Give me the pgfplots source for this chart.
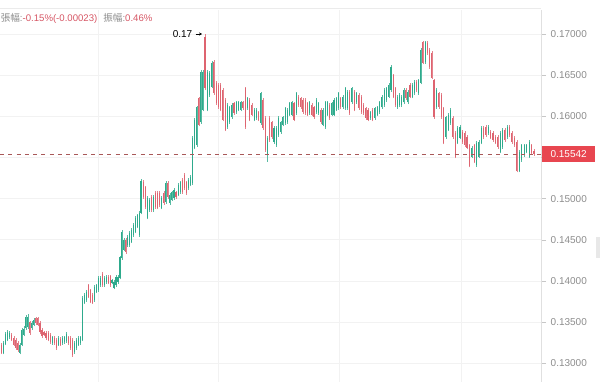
\documentclass[border=0pt]{standalone}
\usepackage{fontspec}
\setmainfont{Liberation Sans}
\newfontfamily\cjk{Noto Sans CJK TC}
\usepackage{pgfplots}
\usepackage{pgfplotstable}
\pgfplotsset{compat=1.18}
\usetikzlibrary{arrows.meta}
\definecolor{cup}{RGB}{46,170,140}
\definecolor{cdn}{RGB}{222,100,112}
\definecolor{lbl}{RGB}{140,140,140}
\definecolor{val}{RGB}{214,86,100}
\definecolor{grd}{RGB}{242,242,242}
\definecolor{pricebox}{RGB}{232,70,80}
\definecolor{dashc}{RGB}{168,88,88}

\pgfplotstableread{
x o h l c
3.5 0.1313 0.1327 0.1311 0.1325
5.6 0.1324 0.1338 0.1322 0.1336
7.6 0.1329 0.1341 0.1327 0.1338
9.6 0.1332 0.1339 0.1330 0.1337
19.7 0.1313 0.1325 0.1311 0.1323
21.8 0.1323 0.1343 0.1321 0.1341
23.8 0.1335 0.1345 0.1333 0.1342
25.8 0.1343 0.1359 0.1341 0.1357
27.8 0.1344 0.1360 0.1342 0.1357
31.9 0.1343 0.1351 0.1341 0.1349
33.9 0.1347 0.1355 0.1345 0.1353
52.1 0.1325 0.1334 0.1323 0.1332
58.2 0.1323 0.1333 0.1321 0.1331
62.2 0.1325 0.1333 0.1323 0.1331
64.2 0.1326 0.1334 0.1324 0.1332
66.3 0.1327 0.1338 0.1325 0.1336
74.4 0.1314 0.1327 0.1312 0.1325
76.4 0.1319 0.1331 0.1317 0.1329
78.4 0.1323 0.1333 0.1321 0.1331
80.4 0.1325 0.1334 0.1323 0.1332
82.5 0.1329 0.1382 0.1327 0.1380
84.5 0.1374 0.1385 0.1372 0.1383
86.4 0.1377 0.1389 0.1375 0.1387
94.3 0.1377 0.1395 0.1375 0.1393
96.3 0.1387 0.1397 0.1385 0.1395
98.3 0.1389 0.1406 0.1387 0.1404
100.2 0.1395 0.1406 0.1393 0.1404
104.2 0.1395 0.1406 0.1393 0.1404
106.1 0.1399 0.1407 0.1397 0.1405
112.0 0.1398 0.1403 0.1396 0.1401
114.0 0.1392 0.1401 0.1390 0.1399
116.0 0.1395 0.1407 0.1393 0.1405
118.0 0.1399 0.1407 0.1397 0.1405
120.0 0.1404 0.1431 0.1402 0.1429
121.9 0.1428 0.1462 0.1426 0.1460
123.8 0.1438 0.1452 0.1436 0.1450
127.6 0.1444 0.1456 0.1442 0.1454
129.6 0.1444 0.1461 0.1442 0.1459
131.5 0.1448 0.1464 0.1446 0.1462
133.4 0.1456 0.1470 0.1454 0.1468
135.3 0.1460 0.1479 0.1458 0.1477
137.2 0.1466 0.1482 0.1464 0.1480
139.1 0.1456 0.1485 0.1454 0.1483
141.0 0.1483 0.1524 0.1481 0.1522
147.2 0.1477 0.1503 0.1475 0.1501
149.2 0.1486 0.1501 0.1484 0.1499
153.4 0.1486 0.1504 0.1484 0.1502
161.6 0.1489 0.1503 0.1487 0.1501
165.7 0.1496 0.1521 0.1494 0.1519
169.8 0.1495 0.1507 0.1493 0.1505
171.9 0.1499 0.1510 0.1497 0.1508
174.0 0.1501 0.1513 0.1499 0.1511
178.1 0.1505 0.1519 0.1503 0.1517
180.1 0.1508 0.1522 0.1506 0.1520
188.4 0.1513 0.1525 0.1511 0.1523
190.4 0.1517 0.1529 0.1515 0.1527
192.5 0.1519 0.1576 0.1517 0.1574
194.6 0.1562 0.1598 0.1560 0.1596
196.7 0.1565 0.1613 0.1563 0.1611
200.8 0.1593 0.1656 0.1591 0.1654
202.9 0.1608 0.1656 0.1606 0.1654
207.2 0.1608 0.1656 0.1606 0.1654
209.5 0.1626 0.1655 0.1624 0.1653
211.7 0.1636 0.1667 0.1634 0.1665
227.3 0.1587 0.1616 0.1585 0.1614
229.5 0.1593 0.1613 0.1591 0.1611
231.8 0.1599 0.1616 0.1597 0.1614
236.2 0.1605 0.1619 0.1603 0.1617
238.5 0.1608 0.1619 0.1606 0.1617
240.7 0.1608 0.1619 0.1606 0.1617
247.4 0.1610 0.1624 0.1608 0.1622
254.1 0.1596 0.1610 0.1594 0.1608
256.3 0.1598 0.1610 0.1596 0.1608
260.7 0.1592 0.1630 0.1590 0.1628
267.4 0.1553 0.1576 0.1545 0.1574
274.0 0.1569 0.1588 0.1567 0.1586
276.3 0.1565 0.1588 0.1563 0.1586
278.5 0.1577 0.1600 0.1575 0.1598
280.7 0.1581 0.1595 0.1579 0.1593
282.9 0.1590 0.1601 0.1588 0.1599
285.1 0.1592 0.1612 0.1590 0.1610
287.4 0.1593 0.1610 0.1591 0.1608
289.6 0.1602 0.1618 0.1600 0.1616
291.8 0.1602 0.1619 0.1600 0.1617
296.2 0.1604 0.1630 0.1602 0.1628
309.6 0.1604 0.1619 0.1602 0.1617
316.2 0.1605 0.1622 0.1603 0.1620
318.4 0.1604 0.1618 0.1602 0.1616
322.9 0.1590 0.1610 0.1588 0.1608
325.1 0.1587 0.1619 0.1585 0.1617
327.3 0.1602 0.1619 0.1600 0.1617
331.8 0.1602 0.1618 0.1600 0.1616
334.0 0.1602 0.1622 0.1600 0.1620
336.2 0.1608 0.1624 0.1606 0.1622
338.4 0.1610 0.1630 0.1608 0.1628
342.9 0.1611 0.1626 0.1609 0.1624
345.1 0.1610 0.1636 0.1608 0.1634
347.3 0.1610 0.1632 0.1608 0.1630
351.9 0.1617 0.1636 0.1615 0.1634
356.5 0.1617 0.1630 0.1615 0.1628
370.3 0.1598 0.1607 0.1596 0.1605
374.9 0.1598 0.1612 0.1596 0.1610
377.2 0.1602 0.1613 0.1600 0.1611
379.5 0.1605 0.1619 0.1603 0.1617
381.8 0.1611 0.1626 0.1609 0.1624
384.1 0.1614 0.1634 0.1612 0.1632
386.4 0.1620 0.1636 0.1618 0.1634
388.7 0.1624 0.1640 0.1622 0.1638
391.0 0.1632 0.1662 0.1630 0.1660
397.4 0.1611 0.1626 0.1609 0.1624
399.5 0.1614 0.1628 0.1612 0.1626
401.6 0.1614 0.1626 0.1612 0.1624
403.7 0.1617 0.1634 0.1615 0.1632
407.8 0.1617 0.1632 0.1615 0.1630
412.1 0.1624 0.1640 0.1622 0.1638
414.3 0.1628 0.1644 0.1626 0.1642
418.6 0.1628 0.1646 0.1626 0.1644
420.7 0.1641 0.1683 0.1639 0.1681
425.1 0.1666 0.1692 0.1664 0.1690
436.4 0.1611 0.1634 0.1609 0.1632
445.8 0.1575 0.1601 0.1573 0.1599
448.2 0.1584 0.1604 0.1582 0.1602
450.5 0.1592 0.1610 0.1590 0.1608
457.6 0.1568 0.1588 0.1566 0.1586
460.0 0.1574 0.1589 0.1572 0.1587
471.8 0.1551 0.1564 0.1549 0.1562
476.5 0.1541 0.1570 0.1539 0.1568
478.8 0.1551 0.1571 0.1549 0.1569
481.2 0.1568 0.1588 0.1566 0.1586
488.3 0.1580 0.1589 0.1578 0.1587
500.1 0.1557 0.1582 0.1555 0.1580
502.4 0.1563 0.1586 0.1561 0.1584
507.2 0.1575 0.1589 0.1573 0.1587
519.2 0.1534 0.1559 0.1532 0.1557
521.6 0.1547 0.1567 0.1545 0.1565
524.1 0.1553 0.1567 0.1551 0.1565
526.6 0.1557 0.1567 0.1555 0.1565
529.1 0.1551 0.1571 0.1549 0.1569
}\upData

\pgfplotstableread{
x o h l c
1.5 0.1323 0.1325 0.1311 0.1313
11.6 0.1335 0.1337 0.1327 0.1329
13.7 0.1331 0.1333 0.1321 0.1323
15.7 0.1329 0.1331 0.1317 0.1319
17.7 0.1325 0.1327 0.1314 0.1316
29.9 0.1350 0.1352 0.1335 0.1337
35.9 0.1355 0.1357 0.1347 0.1349
37.9 0.1355 0.1357 0.1345 0.1347
40.0 0.1349 0.1351 0.1336 0.1338
42.0 0.1341 0.1343 0.1331 0.1333
44.0 0.1338 0.1340 0.1333 0.1335
46.0 0.1337 0.1339 0.1329 0.1331
48.1 0.1337 0.1339 0.1327 0.1329
50.1 0.1335 0.1337 0.1324 0.1326
54.1 0.1331 0.1333 0.1323 0.1325
56.1 0.1329 0.1331 0.1317 0.1319
60.2 0.1330 0.1332 0.1321 0.1323
68.3 0.1332 0.1334 0.1323 0.1325
70.3 0.1331 0.1333 0.1317 0.1319
72.3 0.1329 0.1331 0.1308 0.1310
88.4 0.1395 0.1397 0.1379 0.1381
90.4 0.1389 0.1391 0.1373 0.1375
92.4 0.1383 0.1385 0.1372 0.1374
102.2 0.1409 0.1411 0.1393 0.1395
108.1 0.1405 0.1407 0.1396 0.1398
110.2 0.1406 0.1408 0.1393 0.1395
125.7 0.1450 0.1452 0.1433 0.1435
143.1 0.1520 0.1523 0.1500 0.1502
145.1 0.1514 0.1516 0.1488 0.1490
151.3 0.1502 0.1504 0.1484 0.1486
155.4 0.1507 0.1509 0.1488 0.1490
157.5 0.1507 0.1509 0.1487 0.1489
159.5 0.1507 0.1509 0.1490 0.1492
163.7 0.1507 0.1509 0.1493 0.1495
167.8 0.1519 0.1521 0.1500 0.1502
176.0 0.1508 0.1510 0.1500 0.1502
182.2 0.1523 0.1525 0.1506 0.1508
184.2 0.1529 0.1531 0.1511 0.1513
186.3 0.1520 0.1522 0.1505 0.1507
198.7 0.1622 0.1624 0.1588 0.1590
205.0 0.1696 0.1700 0.1632 0.1634
213.9 0.1666 0.1668 0.1626 0.1628
216.2 0.1641 0.1643 0.1614 0.1616
218.4 0.1638 0.1640 0.1609 0.1611
220.6 0.1638 0.1640 0.1606 0.1608
222.8 0.1632 0.1634 0.1594 0.1596
225.1 0.1620 0.1622 0.1582 0.1584
234.0 0.1616 0.1618 0.1602 0.1604
242.9 0.1617 0.1619 0.1608 0.1610
245.1 0.1634 0.1636 0.1585 0.1587
249.6 0.1620 0.1622 0.1594 0.1596
251.8 0.1614 0.1616 0.1600 0.1602
258.5 0.1605 0.1607 0.1594 0.1596
262.9 0.1620 0.1622 0.1584 0.1586
265.1 0.1598 0.1600 0.1557 0.1559
269.6 0.1598 0.1600 0.1569 0.1571
271.8 0.1593 0.1595 0.1573 0.1575
294.0 0.1616 0.1618 0.1594 0.1596
298.5 0.1624 0.1626 0.1612 0.1614
300.7 0.1622 0.1624 0.1609 0.1611
302.9 0.1620 0.1622 0.1603 0.1605
305.1 0.1620 0.1622 0.1602 0.1604
307.3 0.1616 0.1618 0.1600 0.1602
311.8 0.1614 0.1616 0.1600 0.1602
314.0 0.1611 0.1613 0.1597 0.1599
320.7 0.1608 0.1610 0.1591 0.1593
329.5 0.1614 0.1616 0.1596 0.1598
340.6 0.1622 0.1624 0.1609 0.1611
349.6 0.1630 0.1632 0.1602 0.1604
354.2 0.1630 0.1632 0.1606 0.1608
358.8 0.1626 0.1628 0.1608 0.1610
361.1 0.1624 0.1626 0.1603 0.1605
363.4 0.1614 0.1616 0.1602 0.1604
365.7 0.1610 0.1612 0.1596 0.1598
368.0 0.1608 0.1610 0.1594 0.1596
372.6 0.1608 0.1610 0.1594 0.1596
393.1 0.1650 0.1652 0.1622 0.1624
395.2 0.1634 0.1636 0.1612 0.1614
405.7 0.1632 0.1634 0.1620 0.1622
410.0 0.1638 0.1640 0.1622 0.1624
416.4 0.1642 0.1644 0.1630 0.1632
422.9 0.1690 0.1692 0.1663 0.1665
427.4 0.1689 0.1691 0.1675 0.1677
429.6 0.1681 0.1683 0.1658 0.1660
431.8 0.1677 0.1679 0.1645 0.1647
434.0 0.1644 0.1646 0.1597 0.1599
438.7 0.1628 0.1630 0.1609 0.1611
441.1 0.1626 0.1628 0.1597 0.1599
443.4 0.1610 0.1612 0.1566 0.1568
452.9 0.1598 0.1600 0.1573 0.1575
455.2 0.1580 0.1582 0.1549 0.1551
462.3 0.1581 0.1583 0.1567 0.1569
464.7 0.1580 0.1582 0.1563 0.1565
467.0 0.1575 0.1577 0.1560 0.1562
469.4 0.1565 0.1567 0.1538 0.1540
474.1 0.1565 0.1567 0.1543 0.1545
483.6 0.1586 0.1588 0.1573 0.1575
485.9 0.1587 0.1589 0.1575 0.1577
490.6 0.1581 0.1583 0.1572 0.1574
493.0 0.1580 0.1582 0.1569 0.1571
495.4 0.1575 0.1577 0.1566 0.1568
497.7 0.1575 0.1577 0.1561 0.1563
504.8 0.1584 0.1586 0.1569 0.1571
509.5 0.1587 0.1589 0.1575 0.1577
511.9 0.1580 0.1582 0.1567 0.1569
514.2 0.1574 0.1576 0.1563 0.1565
516.7 0.1569 0.1571 0.1532 0.1534
531.5 0.1565 0.1567 0.1554 0.1556
534.0 0.1558 0.1560 0.1552 0.15542
}\dnData

\begin{document}
\begin{tikzpicture}[x=0.75pt,y=0.75pt]
\useasboundingbox (0,0) rectangle (600,382);
\begin{axis}[
  at={(0,0)}, anchor=south west,
  scale only axis, width=405.75pt, height=279pt,
  xmin=0, xmax=541, ymin=0.127755, ymax=0.172916,
  axis x line=none, axis y line*=right,
  axis line style={draw=black!12, line width=0.75pt},
  ytick={0.13,0.135,0.14,0.145,0.15,0.16,0.165,0.17},
  extra y ticks={0.155}, extra y tick labels={},
  scaled y ticks=false,
  ymajorgrids, grid style={grd, line width=0.75pt},
  tick align=outside, major tick length=3.75pt,
  tick style={draw=black!22, line width=0.5pt},
  yticklabel style={/pgf/number format/fixed, /pgf/number format/fixed zerofill,
    /pgf/number format/precision=5, /pgf/number format/assume math mode=true,
    font=\fontsize{7.5}{9}\selectfont, text=lbl},
  clip=false,
]
\foreach \gx in {98,218,339,461}{
  \edef\tmp{\noexpand\draw[grd, line width=0.75pt] (axis cs:\gx,0.127755) -- (axis cs:\gx,0.172916);}\tmp
}
% wicks: segment from low to high
\addplot[cup!80, line width=0.3pt, mark=none, forget plot,
  quiver={u=0, v=\thisrow{h}-\thisrow{l}}] table[x=x, y=l] {\upData};
\addplot[cdn!80, line width=0.3pt, mark=none, forget plot,
  quiver={u=0, v=\thisrow{h}-\thisrow{l}}] table[x=x, y=l] {\dnData};
% bodies: segment from open to close
\addplot[cup, line width=0.8pt, mark=none, forget plot,
  quiver={u=0, v=\thisrow{c}-\thisrow{o}}] table[x=x, y=o] {\upData};
\addplot[cdn, line width=0.8pt, mark=none, forget plot,
  quiver={u=0, v=\thisrow{c}-\thisrow{o}}] table[x=x, y=o] {\dnData};
% current price line
\addplot[dashc, line width=0.6pt, dash pattern=on 3pt off 3.2pt, forget plot] coordinates {(0,0.15542) (541,0.15542)};
\node[fill=pricebox, text=white, anchor=west, inner sep=0pt, minimum width=40pt,
  minimum height=11.75pt, font=\fontsize{7.5}{9}\selectfont] at (axis cs:541.7,0.15542) {0.15542};
\end{axis}
% header
\draw[black!8, line width=0.75pt] (0,373) -- (541,373);
\node[anchor=base west, inner sep=0pt, font=\fontsize{7.2}{9}\selectfont] at (0.5,360.5)
  {{\cjk\color{lbl}張幅}{\color{lbl}:}{\color{val}-0.15\%(-0.00023)}\hspace{4.5pt}{\cjk\color{lbl}振幅}{\color{lbl}:}{\color{val}0.46\%}};
% high annotation
\node[anchor=base east, inner sep=0pt, font=\fontsize{7.5}{9}\selectfont] at (192.5,344) {0.17};
\draw[-{Stealth[length=2.2pt,width=2.4pt]}, line width=0.5pt] (195.5,348) -- (202,348);
% scroll tab
\fill[black!9] (596,124) rectangle (600,145);
\end{tikzpicture}
\end{document}
